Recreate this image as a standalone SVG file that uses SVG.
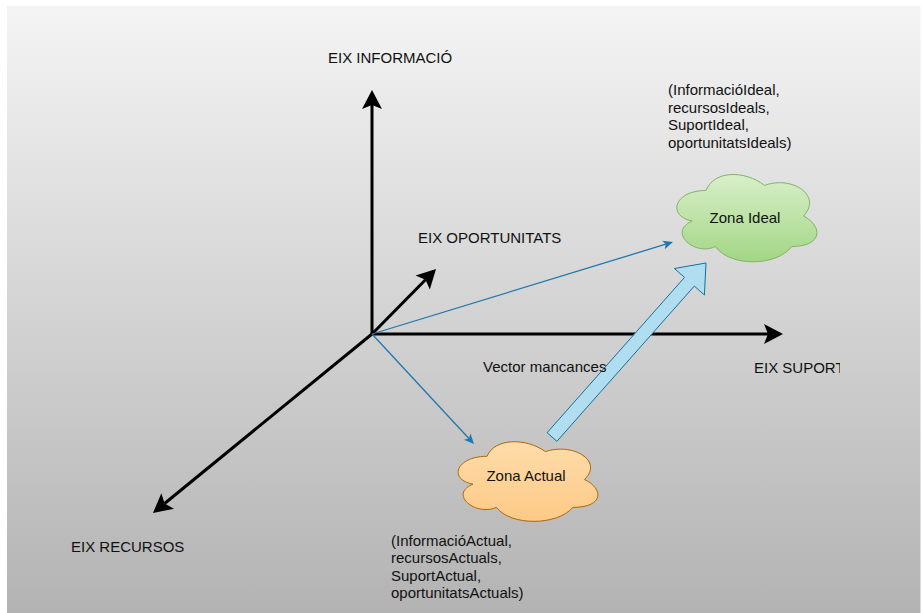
<svg xmlns="http://www.w3.org/2000/svg" width="922" height="613" viewBox="0 0 922 613">
  <style>
    .lbl { font-family: "Liberation Sans", Arial, sans-serif; font-size: 15px; fill: #111; }
    .mid { text-anchor: middle; }
    .axis { stroke: #000; stroke-width: 3; fill: none; }
    .thin { stroke: #1f78ad; stroke-width: 1.3; fill: none; }
  </style>
  <defs>
    <linearGradient id="bg" x1="0" y1="0" x2="0" y2="1">
      <stop offset="0" stop-color="#f4f4f4"/>
      <stop offset="1" stop-color="#b3b3b3"/>
    </linearGradient>
    <linearGradient id="greenFill" x1="0" y1="0" x2="0" y2="1">
      <stop offset="0" stop-color="#d8efc8"/>
      <stop offset="1" stop-color="#a3d685"/>
    </linearGradient>
    <linearGradient id="orangeFill" x1="0" y1="0" x2="0" y2="1">
      <stop offset="0" stop-color="#ffdcaa"/>
      <stop offset="1" stop-color="#fcca86"/>
    </linearGradient>
    <marker id="axisHead" markerUnits="userSpaceOnUse" markerWidth="22" markerHeight="22" viewBox="0 -11 20 22" refX="4" refY="0" orient="auto">
      <path d="M0,-10 L19,0 L0,10 L4,0 Z" fill="#000"/>
    </marker>
    <marker id="blueHead" markerUnits="userSpaceOnUse" markerWidth="12" markerHeight="12" viewBox="0 -6 11 12" refX="2.5" refY="0" orient="auto">
      <path d="M0,-4.5 L10,0 L0,4.5 L2.5,0 Z" fill="#1f78ad"/>
    </marker>
    <clipPath id="suportClip">
      <rect x="740" y="350" width="100" height="40"/>
    </clipPath>
  </defs>

  <!-- page background -->
  <rect x="7" y="6" width="913.5" height="607" fill="url(#bg)"/>

  <!-- connectors: axes and vectors -->
  <g id="connectors">
    <line class="axis" x1="372" y1="334" x2="372" y2="105" marker-end="url(#axisHead)"/>
    <line class="axis" x1="371" y1="334" x2="768" y2="334" marker-end="url(#axisHead)"/>
    <line class="axis" x1="372" y1="334" x2="425.5" y2="279.7" marker-end="url(#axisHead)"/>
    <line class="axis" x1="372" y1="334" x2="164.6" y2="503.5" marker-end="url(#axisHead)"/>
    <line class="thin" x1="372" y1="334" x2="665.8" y2="244.2" marker-end="url(#blueHead)"/>
    <line class="thin" x1="372" y1="334" x2="468.9" y2="438.5" marker-end="url(#blueHead)"/>
    <!-- gap vector from current to ideal -->
    <polygon id="vector-mancances" points="547.1,432.7 684.5,277.4 674.4,268.5 706,263 704.4,295 694.3,286.1 556.9,441.3" fill="#b1ddf0" stroke="#10739e" stroke-width="1"/>
  </g>

  <!-- axis labels -->
  <g id="axis-labels">
    <text class="lbl" x="328" y="63">EIX INFORMACIÓ</text>
    <text class="lbl" x="418" y="243">EIX OPORTUNITATS</text>
    <text class="lbl" x="754" y="373" clip-path="url(#suportClip)">EIX SUPORT</text>
    <text class="lbl" x="71" y="552">EIX RECURSOS</text>
    <text class="lbl" x="483" y="372">Vector mancances</text>
  </g>

  <g id="zona-ideal">
    <path d="M706,190.5 C673.8,190.5 667,216 692,221 C667,232.2 695.1,256.7 715.4,246.5 C729.4,266.9 776.2,266.9 791.8,246.5 C823,246.5 823,226.1 803.5,216 C823,195.6 791.8,175.2 764.5,185.4 C745,170.1 713.8,170.1 706,190.5 Z" fill="url(#greenFill)" stroke="#82b366" stroke-width="1"/>
    <text class="lbl mid" x="745" y="223">Zona Ideal</text>
  </g>

  <g id="zona-actual">
    <path d="M487,456.3 C455.8,456.3 448,479.5 473,484.2 C448,494.4 476.1,516.6 496.4,507.4 C510.4,526 557.2,526 572.8,507.4 C604,507.4 604,488.8 584.5,479.5 C604,460.9 572.8,442.3 545.5,451.6 C526,437.7 494.8,437.7 487,456.3 Z" fill="url(#orangeFill)" stroke="#b46504" stroke-width="1"/>
    <text class="lbl mid" x="526" y="481">Zona Actual</text>
  </g>

  <g id="coords-ideal">
    <text class="lbl" x="668" y="95">(InformacióIdeal,<tspan x="668" dy="17.5">recursosIdeals,</tspan><tspan x="668" dy="17.5">SuportIdeal,</tspan><tspan x="668" dy="17.5">oportunitatsIdeals)</tspan></text>
  </g>

  <g id="coords-actual">
    <text class="lbl" x="391" y="545.5">(InformacióActual,<tspan x="391" dy="17.5">recursosActuals,</tspan><tspan x="391" dy="17.5">SuportActual,</tspan><tspan x="391" dy="17.5">oportunitatsActuals)</tspan></text>
  </g>
</svg>
